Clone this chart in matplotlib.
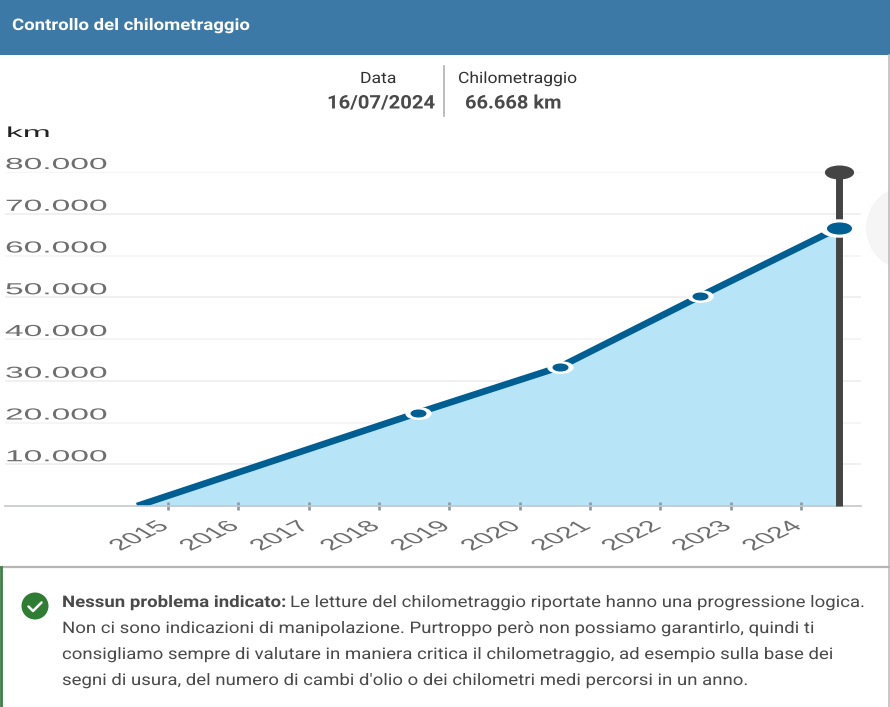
import matplotlib
matplotlib.use("Agg")
import matplotlib.pyplot as plt
from matplotlib.patches import Circle, Rectangle
from matplotlib.patheffects import AbstractPathEffect
from matplotlib.path import Path
from matplotlib.transforms import Affine2D

# readings, x in decimal years
read_years = [2014.56, 2018.55, 2020.57, 2022.56, 2024.54]
read_km = [0, 22300, 33300, 50200, 66668]
year_ticks = [2015, 2016, 2017, 2018, 2019, 2020, 2021, 2022, 2023, 2024]
km_ticks = [0, 10000, 20000, 30000, 40000, 50000, 60000, 70000, 80000]
km_labels = ["", "10.000", "20.000", "30.000", "40.000", "50.000", "60.000", "70.000", "80.000"]
cursor_year = 2024.54
cursor_top = 80000

BLUE = "#005f92"
FILL = "#b8e4f7"
ELLIPSE = Path.unit_circle().transformed(Affine2D().scale(2.2, 1))


class Stretch(AbstractPathEffect):
    # the reference is a screenshot squeezed vertically, so text gets wider on screen
    def __init__(self, sx):
        super().__init__()
        self.sx = sx

    def draw_path(self, renderer, gc, tpath, affine, rgbFace=None):
        tx = affine.get_matrix()[0, 2]
        a = affine + Affine2D().translate(-tx, 0).scale(self.sx, 1).translate(tx, 0)
        renderer.draw_path(gc, tpath, a, rgbFace)


fig = plt.figure(figsize=(8.9, 7.07), dpi=100, facecolor="white")

# page furniture, in pixel coordinates
bg = fig.add_axes([0, 0, 1, 1])
bg.set_xlim(0, 890)
bg.set_ylim(707, 0)
bg.axis("off")

bg.add_patch(Rectangle((0, 0), 890, 55, color="#3d79a6", lw=0))
bg.add_patch(Circle((908, 228), 42, color="#f5f5f5", lw=0))
bg.plot([889, 889], [55, 707], color="#bdbdbd", lw=1.2)
bg.plot([0, 890], [566.5, 566.5], color="#b5b5b5", lw=1.6)
bg.plot([1, 1], [567, 707], color="#3f7d45", lw=2)
bg.plot([444, 444], [66, 116], color="#b0b0b0", lw=1.2)

rob = dict(family="Roboto", va="baseline")
bg.text(12, 30, "Controllo del chilometraggio", color="white", fontsize=11.5,
        fontweight="bold", path_effects=[Stretch(1.163)], **rob)
bg.text(360, 83, "Data", color="#333333", fontsize=11.2, path_effects=[Stretch(1.13)], **rob)
bg.text(458, 83, "Chilometraggio", color="#333333", fontsize=11.2, path_effects=[Stretch(1.124)], **rob)
bg.text(327, 108.5, "16/07/2024", color="#4a4a4a", fontsize=13.5, fontweight="bold",
        path_effects=[Stretch(1.08)], **rob)
bg.text(465, 108.5, "66.668 km", color="#4a4a4a", fontsize=13.5, fontweight="bold",
        path_effects=[Stretch(1.07)], **rob)
bg.text(6, 137, "km", color="#222222", fontsize=10.5, family="Liberation Sans",
        path_effects=[Stretch(2.3)])

bg.add_patch(Circle((35, 606), 13.5, color="#2e7d32", lw=0))
bg.plot([28.5, 33, 41.5], [606.5, 611, 602.5], color="white", lw=1.8, solid_capstyle="round")

body = dict(color="#4a4a4a", fontsize=11.5, path_effects=[Stretch(1.165)], **rob)
bg.text(62, 607, "Nessun problema indicato:", fontweight="bold", **body)
bg.text(290, 607, "Le letture del chilometraggio riportate hanno una progressione logica.", **body)
bg.text(62, 633, "Non ci sono indicazioni di manipolazione. Purtroppo però non possiamo garantirlo, quindi ti", **body)
bg.text(62, 659, "consigliamo sempre di valutare in maniera critica il chilometraggio, ad esempio sulla base dei", **body)
bg.text(62, 685, "segni di usura, del numero di cambi d'olio o dei chilometri medi percorsi in un anno.", **body)

# the chart itself
ax = fig.add_axes([5 / 890, (707 - 506) / 707, 856 / 890, 334 / 707])
ax.patch.set_alpha(0)
ax.set_xlim(2015 - 163 / 70.33, 2015 + 693 / 70.33)
ax.set_ylim(0, 80000)
for side in ["top", "left", "right"]:
    ax.spines[side].set_visible(False)
ax.spines["bottom"].set_color("#c4c8cc")
ax.spines["bottom"].set_linewidth(1.2)

grid_colors = ["#ededed" if i % 2 else "#f4f4f4" for i in range(len(km_ticks))]
ax.hlines(km_ticks[1:], *ax.get_xlim(), colors=grid_colors[1:], lw=1.2, zorder=0.5)

ax.fill_between(read_years, read_km, 0, color=FILL, lw=0, zorder=1)
ax.plot(read_years, read_km, color=BLUE, lw=4.8, solid_capstyle="butt", zorder=2)
ax.plot([cursor_year, cursor_year], [0, cursor_top], color="#444444", lw=5, solid_capstyle="butt", zorder=3, clip_on=False)
ax.plot([cursor_year], [cursor_top], marker=ELLIPSE, ms=20, color="#444444", lw=0, zorder=3, clip_on=False)
ax.plot(read_years[1:4], read_km[1:4], ls="", marker=ELLIPSE, ms=18, color="white", zorder=4)
ax.plot(read_years[1:4], read_km[1:4], ls="", marker=ELLIPSE, ms=10.5, color=BLUE, zorder=5)
ax.plot(read_years[4:], read_km[4:], ls="", marker=ELLIPSE, ms=27, color="white", zorder=4, clip_on=False)
ax.plot(read_years[4:], read_km[4:], ls="", marker=ELLIPSE, ms=17, color=BLUE, zorder=5, clip_on=False)

ax.set_yticks(km_ticks, km_labels)
ax.tick_params(axis="y", length=0, pad=0)
for lab in ax.get_yticklabels():
    lab.set(ha="left", va="bottom", color="#6e6e6e", family="Liberation Sans", fontsize=11.5,
            path_effects=[Stretch(2.1)])

ax.set_xticks(year_ticks, [str(y) for y in year_ticks])
ax.tick_params(axis="x", direction="inout", length=6, width=1.9, color="#8b97a3", pad=0)
for lab in ax.get_xticklabels():
    lab.set(ha="left", va="baseline", rotation=42, rotation_mode="anchor", color="#6e6e6e",
            family="Liberation Sans", fontsize=11.5, path_effects=[Stretch(1.9)])
    lab.set_transform(lab.get_transform() + Affine2D().translate(-48, -41))

fig.savefig("out.png", dpi=100)
